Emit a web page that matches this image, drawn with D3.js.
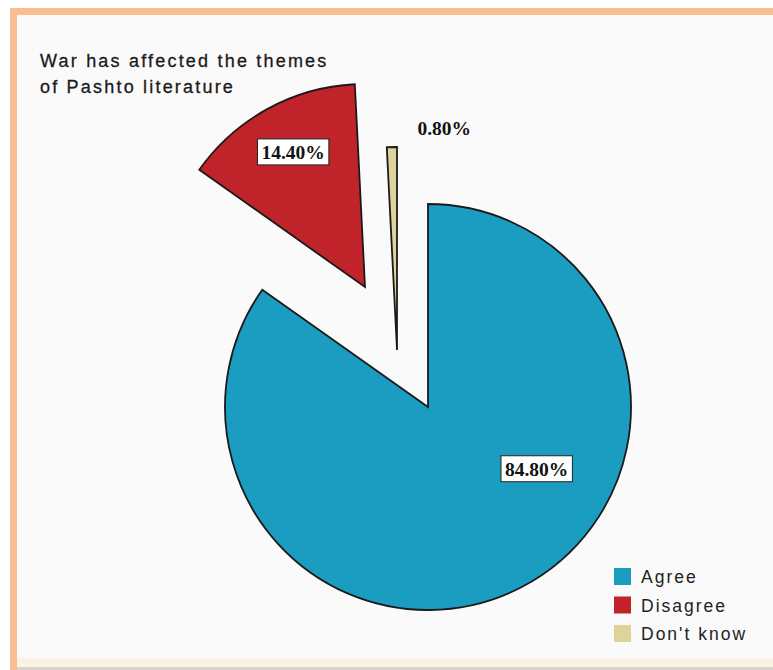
<!DOCTYPE html>
<html>
<head>
<meta charset="utf-8">
<script src="https://cdn.jsdelivr.net/npm/d3@7"></script>
<style>
  html, body { margin: 0; padding: 0; background: #ffffff; }
  svg { display: block; }
</style>
</head>
<body>
<svg id="chart" width="773" height="670"></svg>
<script>
// Survey responses: "War has affected the themes of Pashto literature"
const categories = ["Agree", "Disagree", "Don't know"];
const shares = [84.80, 14.40, 0.80];
const valueLabels = ["84.80%", "14.40%", "0.80%"];
const titleLines = ["War has affected the themes", "of Pashto literature"];

// Styling and layout
const colors = ["#1a9dc1", "#c1232b", "#ded39b"];
const center = { x: 428, y: 407 };
const radius = 203;
// pull-out offsets of each slice from the pie centre
const explode = [[0, 0], [-63, -120], [-31, -57]];
// label anchor per slice: [angle in degrees clockwise from 12 o'clock, distance from slice vertex]
const labelAnchor = [[119.6, 125], [332, 153], [12, 227]];
const labelBoxed = [true, true, false];

const svg = d3.select("#chart");

// frame
svg.append("rect").attr("x", 10).attr("y", 8).attr("width", 763).attr("height", 662).attr("fill", "#f9bd91");
svg.append("rect").attr("x", 17).attr("y", 15).attr("width", 756).attr("height", 655).attr("fill", "#fafafa");
svg.append("rect").attr("x", 17).attr("y", 658).attr("width", 756).attr("height", 10).attr("fill", "#fcf1e7");
svg.append("rect").attr("x", 17).attr("y", 667).attr("width", 756).attr("height", 3).attr("fill", "#d9d3cc");

// title
const title = svg.append("text")
  .attr("x", 40).attr("y", 67)
  .attr("font-family", "'Liberation Sans', Arial, sans-serif")
  .attr("font-size", 18)
  .attr("letter-spacing", 2.2)
  .attr("fill", "#1a1a1a")
  .attr("stroke", "#1a1a1a")
  .attr("stroke-width", 0.3);
titleLines.forEach((t, i) => {
  title.append("tspan").attr("x", 40).attr("dy", i === 0 ? 0 : 25.5).text(t);
});

// pie
const pie = d3.pie().sort(null).value(d => d)(shares);
const arc = d3.arc().innerRadius(0).outerRadius(radius);

const slices = svg.append("g").attr("transform", `translate(${center.x},${center.y})`);

slices.selectAll("path")
  .data(pie)
  .join("path")
  .attr("transform", (d, i) => `translate(${explode[i][0]},${explode[i][1]})`)
  .attr("d", arc)
  .attr("fill", (d, i) => colors[i])
  .attr("stroke", "#1a1a1a")
  .attr("stroke-width", 1.8)
  .attr("stroke-linejoin", "miter");

// value labels
const labels = slices.selectAll("g.lbl")
  .data(pie)
  .join("g")
  .attr("class", "lbl")
  .attr("transform", (d, i) => {
    const a = labelAnchor[i][0] * Math.PI / 180;
    const r = labelAnchor[i][1];
    const x = explode[i][0] + Math.sin(a) * r;
    const y = explode[i][1] - Math.cos(a) * r;
    return `translate(${x},${y})`;
  });

labels.each(function (d, i) {
  const g = d3.select(this);
  const txt = g.append("text")
    .attr("text-anchor", "middle")
    .attr("dy", "0.35em")
    .attr("font-family", "'Liberation Serif', 'Times New Roman', serif")
    .attr("font-weight", "bold")
    .attr("font-size", 19.5)
    .attr("fill", "#111")
    .text(valueLabels[i]);
  if (labelBoxed[i]) {
    const bb = txt.node().getBBox();
    g.insert("rect", "text")
      .attr("x", bb.x - 4).attr("y", -13)
      .attr("width", bb.width + 8).attr("height", 26)
      .attr("fill", "#ffffff")
      .attr("stroke", "#222")
      .attr("stroke-width", 1);
  }
});

// legend
const legend = svg.append("g").attr("transform", "translate(614,568)");
const items = legend.selectAll("g")
  .data(categories)
  .join("g")
  .attr("transform", (d, i) => `translate(0,${i * 28.5})`);
items.append("rect")
  .attr("width", 17).attr("height", 17)
  .attr("fill", (d, i) => colors[i]);
items.append("text")
  .attr("x", 27).attr("y", 15)
  .attr("font-family", "'Liberation Sans', Arial, sans-serif")
  .attr("font-size", 17.5)
  .attr("letter-spacing", 2)
  .attr("fill", "#222")
  .text(d => d);
</script>
</body>
</html>
